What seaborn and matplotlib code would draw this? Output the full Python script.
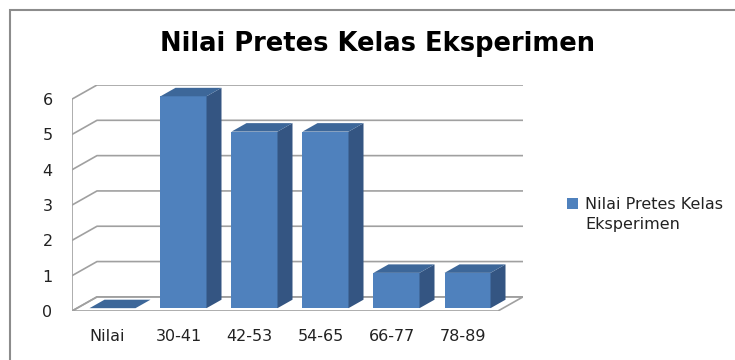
import matplotlib
matplotlib.use("Agg")
import matplotlib.pyplot as plt
from matplotlib.patches import Polygon, Rectangle, Patch
import seaborn as sns
import pandas as pd

# ---- data ----
categories = ["Nilai", "30-41", "42-53", "54-65", "66-77", "78-89"]
values = [0, 6, 5, 5, 1, 1]
series_name = "Nilai Pretes Kelas Eksperimen"
yticks = [0, 1, 2, 3, 4, 5, 6]
title = "Nilai Pretes Kelas Eksperimen"

df = pd.DataFrame({"kategori": categories, "nilai": values, "seri": series_name})

# ---- style ----
FRONT = "#4f81bd"
TOP = "#3d6799"
SIDE = "#345582"
GRID = "#a0a0a0"
TXT = "#222222"
FS = 11.5

sns.set_theme(style="white")
plt.rcParams["font.family"] = ["DejaVu Sans"]

fig = plt.figure(figsize=(7.35, 3.6), dpi=100)
W, H = 735, 360
ax = fig.add_axes([72 / W, 49 / H, 451 / W, 226 / H])

# 3D depth offsets (data units)
DX, DY = 0.352, 0.40
BFX, BFY = 0.2 * DX, 0.2 * DY
BDX, BDY = 0.6 * DX, 0.6 * DY

sns.barplot(data=df, x="kategori", y="nilai", hue="seri", palette=[FRONT],
            width=0.648, ax=ax, legend=True, saturation=1, zorder=5)
bars = list(ax.patches)
n = len(categories)

# walls / gridlines
xl, xr = -0.5, n - 0.5
floor = Polygon([(xl, 0), (xr, 0), (xr + DX, DY), (xl + DX, DY)], closed=True,
                facecolor="white", edgecolor=GRID, lw=1.2, zorder=1)
ax.add_patch(floor)
for v in yticks:
    ax.plot([xl, xl + DX, xr + DX], [v, v + DY, v + DY], color=GRID, lw=1.2, zorder=1)
ax.plot([xl, xl], [0, max(yticks)], color=GRID, lw=1.2, zorder=1)

# 3D bars
for p in bars:
    w = p.get_width()
    h = p.get_height()
    x0 = p.get_x() + BFX
    p.set_x(x0)
    p.set_y(BFY)
    p.set_edgecolor("none")
    side = Polygon([(x0 + w, BFY), (x0 + w + BDX, BFY + BDY),
                    (x0 + w + BDX, BFY + h + BDY), (x0 + w, BFY + h)],
                   closed=True, facecolor=SIDE, edgecolor="none", zorder=5)
    top = Polygon([(x0, BFY + h), (x0 + w, BFY + h),
                   (x0 + w + BDX, BFY + h + BDY), (x0 + BDX, BFY + h + BDY)],
                  closed=True, facecolor=TOP, edgecolor="none", zorder=5)
    ax.add_patch(side)
    ax.add_patch(top)

ax.set_xlim(xl, xr + DX)
ax.set_ylim(0, max(yticks) + DY)
ax.set_yticks(yticks)
ax.set_xticks(range(n))
ax.set_xticklabels(categories)
ax.set_xlabel("")
ax.set_ylabel("")
for s in ax.spines.values():
    s.set_visible(False)
ax.tick_params(axis="y", length=0, pad=14, labelsize=FS, labelcolor=TXT)
ax.tick_params(axis="x", length=0, pad=13, labelsize=FS, labelcolor=TXT)
ax.patch.set_alpha(0)

# legend
h0 = ax.get_legend_handles_labels()[0][0]
ax.get_legend().remove()
blank = Patch(facecolor="none", edgecolor="none")
leg = fig.legend([h0, blank], ["Nilai Pretes Kelas", "Eksperimen"],
                 loc="upper left", bbox_to_anchor=(567 / W, 1 - 197 / H),
                 frameon=False, fontsize=FS, handlelength=0.7, handleheight=0.7,
                 handletextpad=0.45, labelspacing=0.3, borderpad=0, borderaxespad=0)
for t in leg.get_texts():
    t.set_color(TXT)

# title
fig.text(378 / W, 1 - 44 / H, title, ha="center", va="center",
         fontsize=18.5, fontweight="bold", family=["DejaVu Sans"], color="black")

# outer chart frame
fig.patches.append(Rectangle((10 / W, -0.2), 1.0, 1.2 - 10 / H, transform=fig.transFigure,
                             fill=False, edgecolor="#8c8c8c", lw=1.5, zorder=0))

fig.savefig("out.png", dpi=100)
